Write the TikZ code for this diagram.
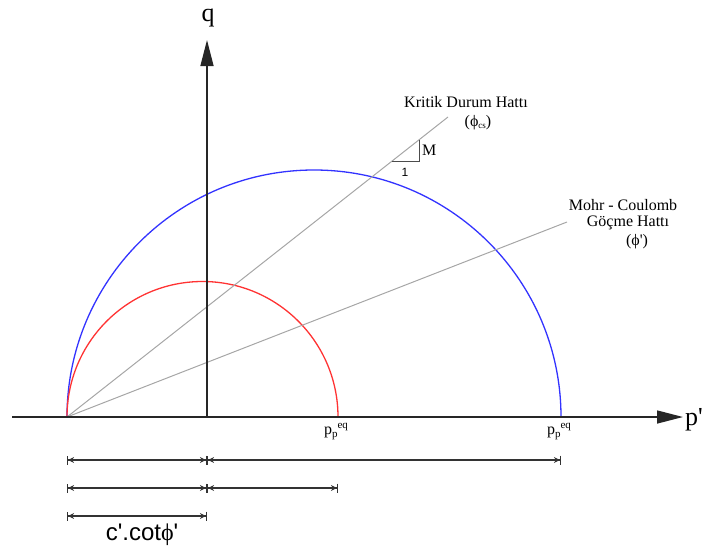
\documentclass[tikz,border=0pt]{standalone}
\usepackage{fontspec}
\setmainfont{Liberation Serif}
\newfontfamily\arialf{Liberation Sans}
\usetikzlibrary{arrows.meta}
\tikzset{
  axisline/.style={line width=1.4pt, black!85},
  axistip/.style={-{Triangle[length=26pt,width=13pt]}},
  blueline/.style={line width=1.3pt, blue!80},
  redline/.style={line width=1.3pt, red!80},
  grayline/.style={line width=1pt, black!35},
  dimline/.style={line width=1.1pt, black!80,
    {Bar[width=9pt]Stealth[length=6pt,width=6pt]}-{Stealth[length=6pt,width=6pt]Bar[width=9pt]}},
  lbl/.style={font=\fontsize{16}{18}\selectfont, inner sep=0pt},
  axlbl/.style={font=\fontsize{26}{28}\selectfont, inner sep=0pt},
}
\begin{document}
\begin{tikzpicture}[x=1pt,y=-1pt]
\useasboundingbox (0,0) rectangle (710,547);
% key points
\coordinate (O) at (67,417);
\coordinate (Ax) at (207,417);
\coordinate (Xs) at (12,417);
\coordinate (Xe) at (683,417);
\coordinate (Ye) at (207,40);
\coordinate (CSe) at (448,117);
\coordinate (MCe) at (567,222);
% circles
\draw[blueline] (O) arc[start angle=180,end angle=360,radius=247];
\draw[redline] (O) arc[start angle=180,end angle=360,radius=135.5];
% lines
\draw[grayline] (O) -- (CSe);
\draw[grayline] (O) -- (MCe);
% slope triangle
\coordinate (T1) at (392,161);
\coordinate (T2) at (419,161);
\coordinate (T3) at (419,140);
\draw[line width=0.9pt, black!70] (T1) -- (T2) -- (T3);
\node[lbl, anchor=west] (M) at (422,150) {M};
\node[font=\arialf\fontsize{12}{14}\selectfont, inner sep=0pt] (one) at (405,172) {1};
% axes
\draw[axisline, axistip] (Xs) -- (Xe);
\draw[axisline, axistip] (Ax) -- (Ye);
\node[axlbl] (q) at (208,18) {q};
\node[axlbl, anchor=west] (p) at (685,420) {p\textquotesingle};
% labels
\node[lbl] (kd) at (466,102) {Kritik Durum Hattı};
\node[lbl] (kdphi) at (478,123) {(ϕ\raisebox{-2pt}{\fontsize{9}{10}\selectfont cs})};
\node[lbl] (mc1) at (623,205) {Mohr - Coulomb};
\node[lbl] (mc2) at (628,223) {Göçme Hattı};
\node[lbl] (mc3) at (637,242) {(ϕ\textquotesingle)};
\node[lbl, anchor=north] (pp1) at (336,423) {p\raisebox{-3pt}{\fontsize{11}{12}\selectfont p}\raisebox{6pt}{\fontsize{11}{12}\selectfont eq}};
\node[lbl, anchor=north] (pp2) at (559,423) {p\raisebox{-3pt}{\fontsize{11}{12}\selectfont p}\raisebox{6pt}{\fontsize{11}{12}\selectfont eq}};
% dimension lines
\coordinate (d1a) at (67,460); \coordinate (d1b) at (207,460); \coordinate (d1c) at (561,460);
\coordinate (d2a) at (67,488); \coordinate (d2b) at (207,488); \coordinate (d2c) at (338,488);
\coordinate (d3a) at (67,516); \coordinate (d3b) at (207,516);
\draw[dimline] (d1a) -- (d1b);
\draw[dimline] (d1b) -- (d1c);
\draw[dimline] (d2a) -- (d2b);
\draw[dimline] (d2b) -- (d2c);
\draw[dimline] (d3a) -- (d3b);
\node[font=\arialf\fontsize{24}{26}\selectfont, inner sep=0pt, anchor=base] (cc) at (142,540) {c\textquotesingle.cot{\rmfamily ϕ}\textquotesingle};
\end{tikzpicture}
\end{document}
